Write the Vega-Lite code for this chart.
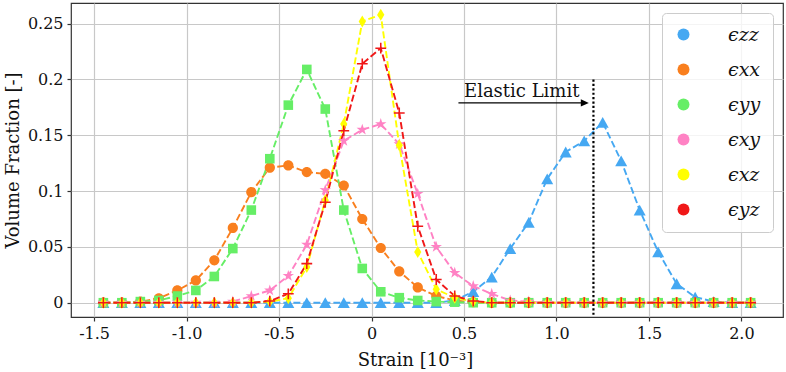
{
  "$schema": "https://vega.github.io/schema/vega-lite/v6.json",
  "width": 712,
  "height": 314,
  "autosize": {"type": "none"},
  "padding": {"left": 71, "top": 3, "right": 3, "bottom": 55},
  "background": "white",
  "config": {
    "view": {"stroke": "#333333", "strokeWidth": 1.2},
    "font": "DejaVu Serif",
    "axis": {
      "labelFont": "DejaVu Serif", "labelFontSize": 16, "labelColor": "#111111",
      "titleFont": "DejaVu Serif", "titleFontSize": 18, "titleFontWeight": "normal", "titleColor": "#111111",
      "domain": false, "tickColor": "#333333", "tickSize": 4, "tickWidth": 1.2,
      "gridColor": "#c8c8c8", "gridWidth": 1.2, "labelPadding": 4
    },
    "legend": {
      "orient": "top-right", "offset": 10, "padding": 12,
      "fillColor": "rgba(255,255,255,0.8)", "strokeColor": "#cccccc", "cornerRadius": 4,
      "labelFont": "DejaVu Serif", "labelFontStyle": "italic", "labelFontSize": 19, "labelColor": "#111111",
      "labelOffset": 35, "rowPadding": 15, "symbolSize": 144
    }
  },
  "datasets": {
    "series": [
      {"s":"ϵzz","x":-1.45,"y":0},{"s":"ϵzz","x":-1.35,"y":0},{"s":"ϵzz","x":-1.25,"y":0},{"s":"ϵzz","x":-1.15,"y":0},
      {"s":"ϵzz","x":-1.05,"y":0},{"s":"ϵzz","x":-0.95,"y":0},{"s":"ϵzz","x":-0.85,"y":0},{"s":"ϵzz","x":-0.75,"y":0},
      {"s":"ϵzz","x":-0.65,"y":0},{"s":"ϵzz","x":-0.55,"y":0},{"s":"ϵzz","x":-0.45,"y":0},{"s":"ϵzz","x":-0.35,"y":0},
      {"s":"ϵzz","x":-0.25,"y":0},{"s":"ϵzz","x":-0.15,"y":0},{"s":"ϵzz","x":-0.05,"y":0},{"s":"ϵzz","x":0.05,"y":0},
      {"s":"ϵzz","x":0.15,"y":0},{"s":"ϵzz","x":0.25,"y":0},{"s":"ϵzz","x":0.35,"y":0},{"s":"ϵzz","x":0.45,"y":0.002},
      {"s":"ϵzz","x":0.55,"y":0.010},{"s":"ϵzz","x":0.65,"y":0.023},{"s":"ϵzz","x":0.75,"y":0.0485},{"s":"ϵzz","x":0.85,"y":0.072},
      {"s":"ϵzz","x":0.95,"y":0.111},{"s":"ϵzz","x":1.05,"y":0.135},{"s":"ϵzz","x":1.15,"y":0.145},{"s":"ϵzz","x":1.25,"y":0.1616},
      {"s":"ϵzz","x":1.35,"y":0.127},{"s":"ϵzz","x":1.45,"y":0.083},{"s":"ϵzz","x":1.55,"y":0.0455},{"s":"ϵzz","x":1.65,"y":0.017},
      {"s":"ϵzz","x":1.75,"y":0.005},{"s":"ϵzz","x":1.85,"y":0.001},{"s":"ϵzz","x":1.95,"y":0},{"s":"ϵzz","x":2.05,"y":0},

      {"s":"ϵxx","x":-1.45,"y":0},{"s":"ϵxx","x":-1.35,"y":0},{"s":"ϵxx","x":-1.25,"y":0.001},{"s":"ϵxx","x":-1.15,"y":0.004},
      {"s":"ϵxx","x":-1.05,"y":0.011},{"s":"ϵxx","x":-0.95,"y":0.020},{"s":"ϵxx","x":-0.85,"y":0.038},{"s":"ϵxx","x":-0.75,"y":0.067},
      {"s":"ϵxx","x":-0.65,"y":0.099},{"s":"ϵxx","x":-0.55,"y":0.121},{"s":"ϵxx","x":-0.45,"y":0.123},{"s":"ϵxx","x":-0.35,"y":0.117},
      {"s":"ϵxx","x":-0.25,"y":0.1155},{"s":"ϵxx","x":-0.15,"y":0.105},{"s":"ϵxx","x":-0.05,"y":0.075},{"s":"ϵxx","x":0.05,"y":0.049},
      {"s":"ϵxx","x":0.15,"y":0.028},{"s":"ϵxx","x":0.25,"y":0.0137},{"s":"ϵxx","x":0.35,"y":0.006},{"s":"ϵxx","x":0.45,"y":0.002},
      {"s":"ϵxx","x":0.55,"y":0.0005},{"s":"ϵxx","x":0.65,"y":0},{"s":"ϵxx","x":0.75,"y":0},{"s":"ϵxx","x":0.85,"y":0},
      {"s":"ϵxx","x":0.95,"y":0},{"s":"ϵxx","x":1.05,"y":0},{"s":"ϵxx","x":1.15,"y":0},{"s":"ϵxx","x":1.25,"y":0},
      {"s":"ϵxx","x":1.35,"y":0},{"s":"ϵxx","x":1.45,"y":0},{"s":"ϵxx","x":1.55,"y":0},{"s":"ϵxx","x":1.65,"y":0},
      {"s":"ϵxx","x":1.75,"y":0},{"s":"ϵxx","x":1.85,"y":0},{"s":"ϵxx","x":1.95,"y":0},{"s":"ϵxx","x":2.05,"y":0},

      {"s":"ϵyy","x":-1.45,"y":0},{"s":"ϵyy","x":-1.35,"y":0},{"s":"ϵyy","x":-1.25,"y":0.001},{"s":"ϵyy","x":-1.15,"y":0.002},
      {"s":"ϵyy","x":-1.05,"y":0.006},{"s":"ϵyy","x":-0.95,"y":0.011},{"s":"ϵyy","x":-0.85,"y":0.0235},{"s":"ϵyy","x":-0.75,"y":0.0485},
      {"s":"ϵyy","x":-0.65,"y":0.083},{"s":"ϵyy","x":-0.55,"y":0.129},{"s":"ϵyy","x":-0.45,"y":0.177},{"s":"ϵyy","x":-0.35,"y":0.209},
      {"s":"ϵyy","x":-0.25,"y":0.1735},{"s":"ϵyy","x":-0.15,"y":0.083},{"s":"ϵyy","x":-0.05,"y":0.0307},{"s":"ϵyy","x":0.05,"y":0.0098},
      {"s":"ϵyy","x":0.15,"y":0.0045},{"s":"ϵyy","x":0.25,"y":0.002},{"s":"ϵyy","x":0.35,"y":0.001},{"s":"ϵyy","x":0.45,"y":0.0005},
      {"s":"ϵyy","x":0.55,"y":0},{"s":"ϵyy","x":0.65,"y":0},{"s":"ϵyy","x":0.75,"y":0},{"s":"ϵyy","x":0.85,"y":0},
      {"s":"ϵyy","x":0.95,"y":0},{"s":"ϵyy","x":1.05,"y":0},{"s":"ϵyy","x":1.15,"y":0},{"s":"ϵyy","x":1.25,"y":0},
      {"s":"ϵyy","x":1.35,"y":0},{"s":"ϵyy","x":1.45,"y":0},{"s":"ϵyy","x":1.55,"y":0},{"s":"ϵyy","x":1.65,"y":0},
      {"s":"ϵyy","x":1.75,"y":0},{"s":"ϵyy","x":1.85,"y":0},{"s":"ϵyy","x":1.95,"y":0},{"s":"ϵyy","x":2.05,"y":0},

      {"s":"ϵxy","x":-1.45,"y":0},{"s":"ϵxy","x":-1.35,"y":0},{"s":"ϵxy","x":-1.25,"y":0},{"s":"ϵxy","x":-1.15,"y":0},
      {"s":"ϵxy","x":-1.05,"y":0},{"s":"ϵxy","x":-0.95,"y":0},{"s":"ϵxy","x":-0.85,"y":0},{"s":"ϵxy","x":-0.75,"y":0.001},
      {"s":"ϵxy","x":-0.65,"y":0.006},{"s":"ϵxy","x":-0.55,"y":0.011},{"s":"ϵxy","x":-0.45,"y":0.024},{"s":"ϵxy","x":-0.35,"y":0.052},
      {"s":"ϵxy","x":-0.25,"y":0.101},{"s":"ϵxy","x":-0.15,"y":0.145},{"s":"ϵxy","x":-0.05,"y":0.155},{"s":"ϵxy","x":0.05,"y":0.160},
      {"s":"ϵxy","x":0.15,"y":0.142},{"s":"ϵxy","x":0.25,"y":0.0976},{"s":"ϵxy","x":0.35,"y":0.050},{"s":"ϵxy","x":0.45,"y":0.0268},
      {"s":"ϵxy","x":0.55,"y":0.0149},{"s":"ϵxy","x":0.65,"y":0.008},{"s":"ϵxy","x":0.75,"y":0.002},{"s":"ϵxy","x":0.85,"y":0.001},
      {"s":"ϵxy","x":0.95,"y":0},{"s":"ϵxy","x":1.05,"y":0},{"s":"ϵxy","x":1.15,"y":0},{"s":"ϵxy","x":1.25,"y":0},
      {"s":"ϵxy","x":1.35,"y":0},{"s":"ϵxy","x":1.45,"y":0},{"s":"ϵxy","x":1.55,"y":0},{"s":"ϵxy","x":1.65,"y":0},
      {"s":"ϵxy","x":1.75,"y":0},{"s":"ϵxy","x":1.85,"y":0},{"s":"ϵxy","x":1.95,"y":0},{"s":"ϵxy","x":2.05,"y":0},

      {"s":"ϵxz","x":-1.45,"y":0},{"s":"ϵxz","x":-1.35,"y":0},{"s":"ϵxz","x":-1.25,"y":0},{"s":"ϵxz","x":-1.15,"y":0},
      {"s":"ϵxz","x":-1.05,"y":0},{"s":"ϵxz","x":-0.95,"y":0},{"s":"ϵxz","x":-0.85,"y":0},{"s":"ϵxz","x":-0.75,"y":0},
      {"s":"ϵxz","x":-0.65,"y":0},{"s":"ϵxz","x":-0.55,"y":0.001},{"s":"ϵxz","x":-0.45,"y":0.004},{"s":"ϵxz","x":-0.35,"y":0.032},
      {"s":"ϵxz","x":-0.25,"y":0.0917},{"s":"ϵxz","x":-0.15,"y":0.160},{"s":"ϵxz","x":-0.05,"y":0.252},{"s":"ϵxz","x":0.05,"y":0.258},
      {"s":"ϵxz","x":0.15,"y":0.141},{"s":"ϵxz","x":0.25,"y":0.0455},{"s":"ϵxz","x":0.35,"y":0.012},{"s":"ϵxz","x":0.45,"y":0.0045},
      {"s":"ϵxz","x":0.55,"y":0.001},{"s":"ϵxz","x":0.65,"y":0},{"s":"ϵxz","x":0.75,"y":0},{"s":"ϵxz","x":0.85,"y":0},
      {"s":"ϵxz","x":0.95,"y":0},{"s":"ϵxz","x":1.05,"y":0},{"s":"ϵxz","x":1.15,"y":0},{"s":"ϵxz","x":1.25,"y":0},
      {"s":"ϵxz","x":1.35,"y":0},{"s":"ϵxz","x":1.45,"y":0},{"s":"ϵxz","x":1.55,"y":0},{"s":"ϵxz","x":1.65,"y":0},
      {"s":"ϵxz","x":1.75,"y":0},{"s":"ϵxz","x":1.85,"y":0},{"s":"ϵxz","x":1.95,"y":0},{"s":"ϵxz","x":2.05,"y":0},

      {"s":"ϵyz","x":-1.45,"y":0},{"s":"ϵyz","x":-1.35,"y":0},{"s":"ϵyz","x":-1.25,"y":0},{"s":"ϵyz","x":-1.15,"y":0},
      {"s":"ϵyz","x":-1.05,"y":0},{"s":"ϵyz","x":-0.95,"y":0},{"s":"ϵyz","x":-0.85,"y":0},{"s":"ϵyz","x":-0.75,"y":0},
      {"s":"ϵyz","x":-0.65,"y":0},{"s":"ϵyz","x":-0.55,"y":0.0015},{"s":"ϵyz","x":-0.45,"y":0.008},{"s":"ϵyz","x":-0.35,"y":0.035},
      {"s":"ϵyz","x":-0.25,"y":0.090},{"s":"ϵyz","x":-0.15,"y":0.154},{"s":"ϵyz","x":-0.05,"y":0.214},{"s":"ϵyz","x":0.05,"y":0.228},
      {"s":"ϵyz","x":0.15,"y":0.170},{"s":"ϵyz","x":0.25,"y":0.0685},{"s":"ϵyz","x":0.35,"y":0.0208},{"s":"ϵyz","x":0.45,"y":0.006},
      {"s":"ϵyz","x":0.55,"y":0.0015},{"s":"ϵyz","x":0.65,"y":0},{"s":"ϵyz","x":0.75,"y":0},{"s":"ϵyz","x":0.85,"y":0},
      {"s":"ϵyz","x":0.95,"y":0},{"s":"ϵyz","x":1.05,"y":0},{"s":"ϵyz","x":1.15,"y":0},{"s":"ϵyz","x":1.25,"y":0},
      {"s":"ϵyz","x":1.35,"y":0},{"s":"ϵyz","x":1.45,"y":0},{"s":"ϵyz","x":1.55,"y":0},{"s":"ϵyz","x":1.65,"y":0},
      {"s":"ϵyz","x":1.75,"y":0},{"s":"ϵyz","x":1.85,"y":0},{"s":"ϵyz","x":1.95,"y":0},{"s":"ϵyz","x":2.05,"y":0}
    ]
  },
  "encoding": {
    "x": {
      "field": "x", "type": "quantitative",
      "scale": {"domain": [-1.625, 2.225], "nice": false, "zero": false},
      "axis": {
        "title": "Strain  [10⁻³]",
        "values": [-1.5, -1, -0.5, 0, 0.5, 1, 1.5, 2],
        "labelExpr": "datum.value === 0 ? '0' : replace(format(datum.value, '.1f'), '\u2212', '-')",
        "titleX": 344, "titleY": 48, "titleBaseline": "alphabetic", "titleAlign": "center"
      }
    },
    "y": {
      "field": "y", "type": "quantitative",
      "scale": {"domain": [-0.0128, 0.2685], "nice": false, "zero": false},
      "axis": {
        "title": "Volume Fraction [-]",
        "values": [0, 0.05, 0.1, 0.15, 0.2, 0.25],
        "format": "~g",
        "titleX": -53, "titleY": 157, "titleAngle": -90, "titleBaseline": "alphabetic", "titleAlign": "center"
      }
    }
  },
  "layer": [
    {
      "data": {"name": "series"},
      "mark": {"type": "line", "strokeDash": [7, 3], "strokeWidth": 1.9},
      "encoding": {
        "stroke": {
          "field": "s", "type": "nominal",
          "scale": {"domain": ["ϵyz", "ϵxz", "ϵxy", "ϵyy", "ϵxx", "ϵzz"],
                    "range": ["#F01818", "#FFFF00", "#FF82C4", "#66EE66", "#F97F1E", "#45A8F2"]},
          "legend": null
        }
      }
    },
    {
      "data": {"name": "series"},
      "mark": {"type": "point", "filled": true, "opacity": 1, "size": 144, "strokeWidth": 0},
      "encoding": {
        "color": {
          "field": "s", "type": "nominal",
          "scale": {"domain": ["ϵzz", "ϵxx", "ϵyy", "ϵxy", "ϵxz", "ϵyz"],
                    "range": ["#45A8F2", "#F97F1E", "#66EE66", "#FF82C4", "#FFFF00", "#F01818"]},
          "legend": {
            "title": null,
            "encode": {
              "symbols": {
                "shape": {"value": {"expr": "(datum.value === 'ϵzz' ? 'M2.5,-0.8L3.4,0.8L1.6,0.8Z' : datum.value === 'ϵxx' ? 'M3.2,0A0.7,0.7,0,1,1,1.8,0A0.7,0.7,0,1,1,3.2,0Z' : datum.value === 'ϵyy' ? 'M1.85,-0.65L3.15,-0.65L3.15,0.65L1.85,0.65Z' : datum.value === 'ϵxy' ? 'M2.5,-0.9L2.7,-0.28L3.36,-0.28L2.83,0.1L3.03,0.73L2.5,0.34L1.97,0.73L2.17,0.1L1.64,-0.28L2.3,-0.28Z' : datum.value === 'ϵxz' ? 'M2.5,-0.9L3,0L2.5,0.9L2,0Z' : 'M1.65,0L3.35,0M2.5,-0.85L2.5,0.85') + 'M-1,0L0.1,0M0.6,0L1.7,0M2,0L3,0M3.3,0L4.4,0M4.9,0L6,0'"}},
                "stroke": {"value": {"expr": "scale('color', datum.value)"}},
                "strokeWidth": {"value": 1.8}
              }
            }
          }
        },
        "shape": {
          "field": "s", "type": "nominal",
          "scale": {
            "domain": ["ϵyz", "ϵxz", "ϵxy", "ϵyy", "ϵxx", "ϵzz"],
            "range": [
              "M-0.9,-0.13L-0.13,-0.13L-0.13,-0.9L0.13,-0.9L0.13,-0.13L0.9,-0.13L0.9,0.13L0.13,0.13L0.13,0.9L-0.13,0.9L-0.13,0.13L-0.9,0.13Z",
              "M0,-1L0.6,0L0,1L-0.6,0Z",
              "M0,-1L0.223,-0.307L0.951,-0.309L0.361,0.117L0.588,0.809L0,0.38L-0.588,0.809L-0.361,0.117L-0.951,-0.309L-0.223,-0.307Z",
              "M-0.8,-0.8L0.8,-0.8L0.8,0.8L-0.8,0.8Z",
              "M0.85,0A0.85,0.85,0,1,1,-0.85,0A0.85,0.85,0,1,1,0.85,0Z",
              "M0,-0.9L1,0.9L-1,0.9Z"
            ]
          },
          "legend": null
        }
      }
    },
    {
      "data": {"values": [{"x": 1.2, "y": 0.2, "y2": -0.0128}]},
      "mark": {"type": "rule", "color": "#000000", "strokeWidth": 2.2, "strokeDash": [2.2, 2.2]},
      "encoding": {"y2": {"field": "y2"}}
    },
    {
      "data": {"values": [{"x": 0.47, "x2": 1.14, "y": 0.179}]},
      "mark": {"type": "rule", "color": "#000000", "strokeWidth": 1.3},
      "encoding": {"x2": {"field": "x2"}}
    },
    {
      "data": {"values": [{"x": 1.175, "y": 0.179}]},
      "mark": {"type": "point", "filled": true, "opacity": 1, "color": "#000000", "strokeWidth": 0,
               "shape": "M-1,-0.45L0,0L-1,0.45Z", "size": 256}
    },
    {
      "data": {"values": [{"x": 0.5, "y": 0.184, "label": "Elastic Limit"}]},
      "mark": {"type": "text", "align": "left", "baseline": "alphabetic", "font": "DejaVu Serif",
               "fontSize": 18, "color": "#111111"},
      "encoding": {"text": {"field": "label"}}
    }
  ]
}
